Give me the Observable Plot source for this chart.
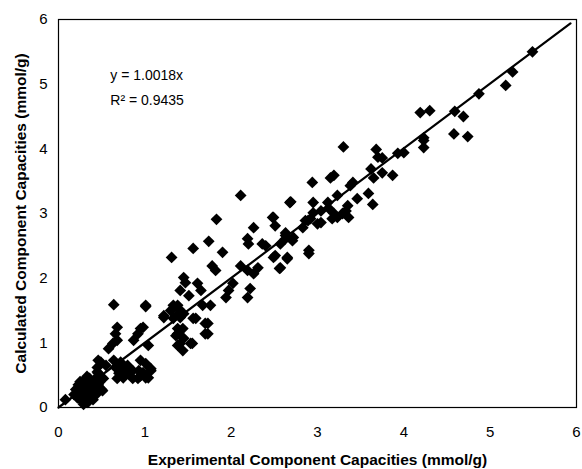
<!DOCTYPE html>
<html><head><meta charset="utf-8">
<script src="https://cdn.jsdelivr.net/npm/d3@7"></script>
<script src="https://cdn.jsdelivr.net/npm/@observablehq/plot@0.6"></script>
<style>
body{margin:0;background:#fff;}
svg{font-family:"Liberation Sans",Arial,sans-serif;}
g[aria-label="x-axis label"] text, g[aria-label="y-axis label"] text{font-weight:bold;font-size:15.5px;}
</style></head>
<body><div id="chart"></div>
<script>
const experimental = [
 5.49,5.26,5.18,4.87,4.19,4.30,4.59,4.69,4.58,4.74,4.23,4.23,3.93,4.00,3.75,
 3.30,3.68,3.70,4.23,3.15,3.19,2.94,3.41,3.62,3.75,3.87,3.65,3.38,2.69,2.95,3.12,3.23,3.46,3.59,3.64,3.35,3.33,3.13,3.19,3.29,3.36,2.95,2.92,3.04,3.00,2.86,2.83,3.04,3.17,3.23,2.49,2.51,2.63,2.63,2.72,2.57,2.51,2.65,2.57,2.90,
 2.11,2.68,1.83,2.48,2.26,2.19,2.20,2.36,2.40,2.63,2.71,2.89,2.90,1.74,1.56,1.90,1.31,2.49,2.65,2.56,1.78,1.82,2.11,2.19,2.26,2.31,1.45,1.47,1.61,1.65,1.41,1.51,2.02,1.97,1.94,2.22,2.19,1.33,1.39,1.67,1.76,1.01,1.45,1.41,1.22,1.56,1.73,1.70,0.98,1.38,1.36,1.41,1.55,1.04,
 0.64,1.01,0.68,0.66,0.63,0.68,0.95,0.92,0.87,1.22,1.30,1.38,1.39,1.33,1.44,1.38,1.45,1.59,1.70,1.73,1.38,1.53,1.44,0.49,0.64,0.72,0.66,0.80,0.86,0.81,0.95,1.01,1.07,0.93,0.95,0.98,0.75,0.86,0.92,1.01,0.68,0.70,1.07,1.04,0.45,0.46,0.58,0.46,0.74,
 0.08,0.18,0.20,0.22,0.23,0.25,0.25,0.27,0.28,0.30,0.30,0.32,0.33,0.34,0.35,0.36,0.37,0.38,0.40,0.40,0.42,0.43,0.45,0.46,0.48,0.50,0.52,0.27,0.29,0.33,0.45,0.55,0.51,0.38
];
const calculated = [
 5.50,5.19,4.98,4.85,4.56,4.59,4.58,4.50,4.23,4.19,4.17,4.02,3.93,3.94,3.86,
 4.03,3.99,3.87,4.13,3.55,3.59,3.48,3.48,3.69,3.63,3.59,3.55,3.43,3.18,3.17,3.17,3.28,3.23,3.31,3.14,3.12,3.04,3.08,3.00,3.00,2.94,3.01,2.92,3.04,2.84,2.89,2.78,2.86,2.92,2.94,2.94,2.81,2.70,2.61,2.63,2.53,2.35,2.32,2.16,2.38,
 3.28,3.17,2.91,2.94,2.78,2.61,2.53,2.53,2.50,2.66,2.58,2.89,2.43,2.57,2.46,2.40,2.32,2.32,2.30,2.15,2.19,2.12,2.19,2.12,2.07,2.16,2.01,1.93,1.92,1.81,1.81,1.73,1.92,1.81,1.70,1.84,1.70,1.58,1.53,1.58,1.58,1.58,1.45,1.39,1.39,1.38,1.30,1.14,1.24,1.22,1.11,0.99,0.99,0.96,
 1.59,1.56,1.24,1.14,0.99,1.04,1.22,1.14,1.04,1.42,1.50,1.58,1.45,1.38,1.22,1.14,1.07,1.38,1.30,1.14,0.96,0.99,0.88,0.70,0.73,0.70,0.62,0.65,0.57,0.53,0.73,0.68,0.60,0.57,0.49,0.54,0.46,0.45,0.45,0.46,0.45,0.53,0.57,0.46,0.62,0.73,0.91,0.53,0.57,
 0.12,0.20,0.28,0.15,0.35,0.22,0.40,0.10,0.30,0.18,0.42,0.25,0.35,0.08,0.15,0.45,0.28,0.20,0.38,0.12,0.30,0.45,0.22,0.35,0.40,0.28,0.45,0.38,0.05,0.48,0.55,0.65,0.26,0.33
];
const slope = 1.0018;
const fitX = [0, 5.93];
const equationText = ["y = 1.0018x", "R\u00b2 = 0.9435"];
const xTicks = [0,1,2,3,4,5,6];
const yTicks = [0,1,2,3,4,5,6];

const points = experimental.map((x,i)=>({x, y: calculated[i]}));
const fit = fitX.map(x=>({x, y: slope*x}));
const labels = [{x:0.6, y:5.13, t:equationText[0]},{x:0.6, y:4.75, t:equationText[1]}];

const chart = Plot.plot({
  width: 582, height: 469,
  marginLeft: 58, marginRight: 6, marginTop: 19, marginBottom: 62,
  style: {fontSize: "15px", fontFamily: "'Liberation Sans', Arial, sans-serif", color: "#000", background: "#fff"},
  x: {domain: [0,6], ticks: xTicks},
  y: {domain: [0,6], ticks: yTicks},
  marks: [
    Plot.axisX({ticks: xTicks, tickFormat: d => String(d), tickSize: 0, tickPadding: 19, fontSize: 15, label: "Experimental Component Capacities (mmol/g)", labelAnchor: "center", labelArrow: "none", labelOffset: 57}),
    Plot.axisY({ticks: yTicks, tickFormat: d => String(d), tickSize: 0, tickPadding: 11, fontSize: 15, label: "Calculated Component Capacities (mmol/g)", labelAnchor: "center", labelArrow: "none", labelOffset: 44}),
    Plot.frame({stroke: "#000", strokeWidth: 1.2}),
    Plot.line(fit, {x: "x", y: "y", stroke: "#000", strokeWidth: 2.2}),
    Plot.dot(points, {x: "x", y: "y", symbol: "diamond2", r: 5.3, fill: "#000", stroke: "none"}),
    Plot.text(labels, {x: "x", y: "y", text: "t", textAnchor: "start", fontSize: 14, fill: "#000"})
  ]
});
document.getElementById("chart").appendChild(chart);
</script></body></html>
